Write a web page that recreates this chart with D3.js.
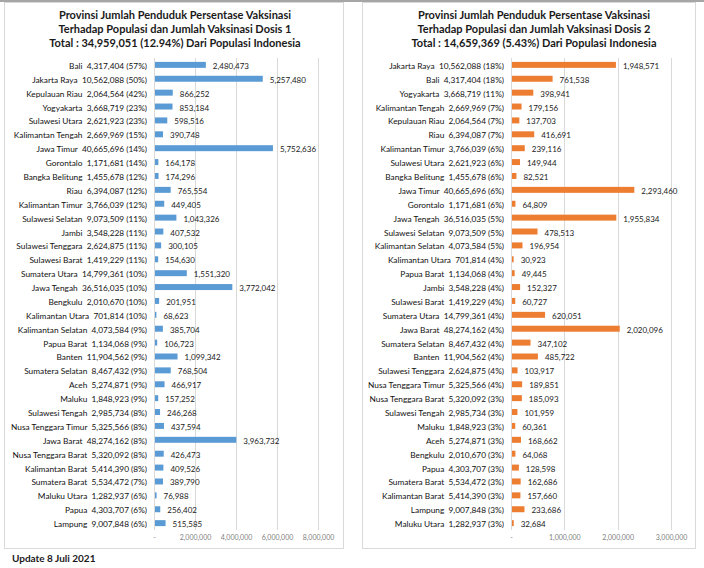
<html>
<script src="https://d3js.org/d3.v7.min.js"></script>
<style>
  body { margin: 0; background: #fff; }
  text { font-family: Lato, "Open Sans", sans-serif; }
</style>
<body>
<div id="chart"></div>
<script>
// ---- data: dosis 1 ----
let provinces1 = ["Bali", "Jakarta Raya", "Kepulauan Riau", "Yogyakarta", "Sulawesi Utara", "Kalimantan Tengah",
  "Jawa Timur", "Gorontalo", "Bangka Belitung", "Riau", "Kalimantan Timur", "Sulawesi Selatan", "Jambi",
  "Sulawesi Tenggara", "Sulawesi Barat", "Sumatera Utara", "Jawa Tengah", "Bengkulu", "Kalimantan Utara",
  "Kalimantan Selatan", "Papua Barat", "Banten", "Sumatera Selatan", "Aceh", "Maluku", "Sulawesi Tengah",
  "Nusa Tenggara Timur", "Jawa Barat", "Nusa Tenggara Barat", "Kalimantan Barat", "Sumatera Barat",
  "Maluku Utara", "Papua", "Lampung"];
let population1 = [4317404, 10562088, 2064564, 3668719, 2621923, 2669969, 40665696, 1171681, 1455678, 6394087,
  3766039, 9073509, 3548228, 2624875, 1419229, 14799361, 36516035, 2010670, 701814, 4073584, 1134068, 11904562,
  8467432, 5274871, 1848923, 2985734, 5325566, 48274162, 5320092, 5414390, 5534472, 1282937, 4303707, 9007848];
let percent1 = [57, 50, 42, 23, 23, 15, 14, 14, 12, 12, 12, 11, 11, 11, 11, 10, 10, 10, 10, 9, 9, 9, 9, 9, 9,
  8, 8, 8, 8, 8, 7, 6, 6, 6];
let vaccinated1 = [2480473, 5257480, 866252, 853184, 598516, 390748, 5752636, 164178, 174296, 765554, 449405,
  1043326, 407532, 300105, 154630, 1551320, 3772042, 201951, 68623, 385704, 106723, 1099342, 768504, 466917,
  157252, 246268, 437594, 3963732, 426473, 409526, 389790, 76988, 256402, 515585];
let ticks1 = [0, 2000000, 4000000, 6000000, 8000000];

// ---- data: dosis 2 ----
let provinces2 = ["Jakarta Raya", "Bali", "Yogyakarta", "Kalimantan Tengah", "Kepulauan Riau", "Riau",
  "Kalimantan Timur", "Sulawesi Utara", "Bangka Belitung", "Jawa Timur", "Gorontalo", "Jawa Tengah",
  "Sulawesi Selatan", "Kalimantan Selatan", "Kalimantan Utara", "Papua Barat", "Jambi", "Sulawesi Barat",
  "Sumatera Utara", "Jawa Barat", "Sumatera Selatan", "Banten", "Sulawesi Tenggara", "Nusa Tenggara Timur",
  "Nusa Tenggara Barat", "Sulawesi Tengah", "Maluku", "Aceh", "Bengkulu", "Papua", "Sumatera Barat",
  "Kalimantan Barat", "Lampung", "Maluku Utara"];
let population2 = [10562088, 4317404, 3668719, 2669969, 2064564, 6394087, 3766039, 2621923, 1455678, 40665696,
  1171681, 36516035, 9073509, 4073584, 701814, 1134068, 3548228, 1419229, 14799361, 48274162, 8467432, 11904562,
  2624875, 5325566, 5320092, 2985734, 1848923, 5274871, 2010670, 4303707, 5534472, 5414390, 9007848, 1282937];
let percent2 = [18, 18, 11, 7, 7, 7, 6, 6, 6, 6, 6, 5, 5, 5, 4, 4, 4, 4, 4, 4, 4, 4, 4, 4, 3, 3, 3, 3, 3, 3,
  3, 3, 3, 3];
let vaccinated2 = [1948571, 761538, 398941, 179156, 137703, 416691, 239116, 149944, 82521, 2293460, 64809,
  1955834, 478513, 196954, 30923, 49445, 152327, 60727, 620051, 2020096, 347102, 485722, 103917, 189851, 185093,
  101959, 60361, 168662, 64068, 128598, 162686, 157660, 233686, 32684];
let ticks2 = [0, 1000000, 2000000, 3000000];

let titles1 = ["Provinsi Jumlah Penduduk Persentase Vaksinasi",
  "Terhadap Populasi dan Jumlah Vaksinasi Dosis 1",
  "Total : 34,959,051 (12.94%) Dari Populasi Indonesia"];
let titles2 = ["Provinsi Jumlah Penduduk Persentase Vaksinasi",
  "Terhadap Populasi dan Jumlah Vaksinasi Dosis 2",
  "Total : 14,659,369 (5.43%) Dari Populasi Indonesia"];

let width = 704, height = 568;
let fmt = d3.format(",");

let svg = d3.select("#chart").append("svg")
  .attr("width", width)
  .attr("height", height);

// top rule across the page
svg.append("rect").attr("x", 0).attr("y", 0).attr("width", width).attr("height", 2).attr("fill", "#a6a6a6");

function drawPanel(cfg) {
  let g = svg.append("g");

  // panel frame
  g.append("rect")
    .attr("x", cfg.box[0] + 0.5).attr("y", 2.5)
    .attr("width", cfg.box[1] - cfg.box[0]).attr("height", 546)
    .attr("fill", "#fff").attr("stroke", "#d9d9d9");

  let x = d3.scaleLinear().domain([0, cfg.max]).range([cfg.left, cfg.right]);
  let y = d3.scaleBand().domain(cfg.provinces).range([58, 530]).paddingInner(0.57).paddingOuter(0.28);

  // gridlines
  g.selectAll(".grid").data(cfg.ticks).join("line")
    .attr("x1", d => Math.round(x(d)) + 0.5).attr("x2", d => Math.round(x(d)) + 0.5)
    .attr("y1", 58).attr("y2", 530)
    .attr("stroke", "#d9d9d9");

  // bars
  g.selectAll(".bar").data(cfg.values).join("rect")
    .attr("x", x(0) + 1)
    .attr("y", (d, i) => y(cfg.provinces[i]))
    .attr("width", d => x(d) - x(0))
    .attr("height", y.bandwidth())
    .attr("fill", cfg.color);

  // value labels
  g.selectAll(".val").data(cfg.values).join("text")
    .attr("x", d => x(d) + 8)
    .attr("y", (d, i) => y(cfg.provinces[i]) + y.bandwidth() / 2 + 1)
    .attr("dominant-baseline", "central")
    .attr("font-size", 8)
    .attr("fill", "#1a1a1a")
    .text(d => fmt(d));

  // category labels
  g.selectAll(".cat").data(cfg.provinces).join("text")
    .attr("x", cfg.left - 7)
    .attr("y", d => y(d) + y.bandwidth() / 2 + 1)
    .attr("dominant-baseline", "central")
    .attr("text-anchor", "end")
    .attr("font-size", 8.3)
    .attr("fill", "#111")
    .attr("xml:space", "preserve")
    .text((d, i) => `${d}  ${fmt(cfg.population[i])} (${cfg.percent[i]}%)`);

  // x axis
  let axis = d3.axisBottom(x)
    .tickValues(cfg.ticks)
    .tickSize(0)
    .tickPadding(0)
    .tickFormat(d => d === 0 ? "-" : fmt(d));
  let ax = g.append("g").attr("transform", "translate(0,535)").call(axis);
  ax.select(".domain").remove();
  ax.selectAll("text")
    .attr("font-family", "Lato, sans-serif")
    .attr("font-size", 7)
    .attr("fill", "#7f7f7f");

  // title
  g.selectAll(".title").data(cfg.titles).join("text")
    .attr("x", cfg.titleX)
    .attr("y", (d, i) => 19 + i * 14)
    .attr("text-anchor", "middle")
    .attr("font-size", 11)
    .attr("font-weight", "bold")
    .attr("fill", "#1a1a1a")
    .text(d => d);
}

drawPanel({
  box: [4, 343], left: 154, right: 318, max: 8000000, color: "#5b9bd5",
  provinces: provinces1, population: population1, percent: percent1, values: vaccinated1,
  ticks: ticks1, titles: titles1, titleX: 175
});

drawPanel({
  box: [362, 695], left: 511, right: 671, max: 3000000, color: "#ed7d31",
  provinces: provinces2, population: population2, percent: percent2, values: vaccinated2,
  ticks: ticks2, titles: titles2, titleX: 534
});

svg.append("text")
  .attr("x", 12).attr("y", 562)
  .attr("font-size", 10)
  .attr("font-weight", "bold")
  .attr("fill", "#1a1a1a")
  .text("Update 8 Juli 2021");
</script>
</body>
</html>
